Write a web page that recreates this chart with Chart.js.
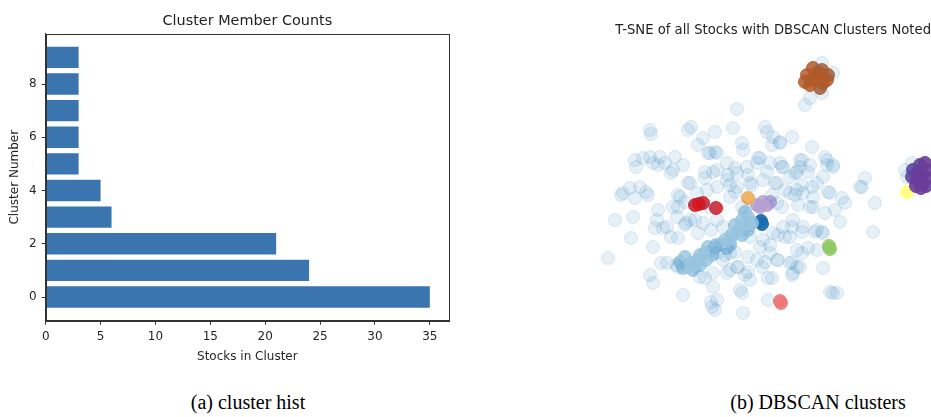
<!DOCTYPE html>
<html>
<head>
<meta charset="utf-8">
<script src="https://cdn.jsdelivr.net/npm/chart.js@4.4.1/dist/chart.umd.min.js"></script>
<style>
  html, body { margin: 0; padding: 0; background: #fff; width: 931px; height: 417px; overflow: hidden; }
  #wrap { position: relative; width: 931px; height: 417px; }
  #bar { position: absolute; left: 0; top: 0; }
  #tsne { position: absolute; left: 590px; top: 0; }
  .cap { position: absolute; top: 391px; font-family: "Liberation Serif", "Times New Roman", serif; font-size: 20px; color: #000; white-space: nowrap; transform: translateX(-50%); }
</style>
</head>
<body>
<div id="wrap">
  <canvas id="bar" width="460" height="370"></canvas>
  <canvas id="tsne" width="341" height="370"></canvas>
  <div class="cap" style="left:248px">(a) cluster hist</div>
  <div class="cap" style="left:818px">(b) DBSCAN clusters</div>
</div>
<script>
// ---------- (a) cluster histogram data ----------
const clusterIds   = [0, 1, 2, 3, 4, 5, 6, 7, 8, 9];
const memberCounts = [35, 24, 21, 6, 5, 3, 3, 3, 3, 3];
const xTickValues  = [0, 5, 10, 15, 20, 25, 30, 35];
const yTickValues  = [0, 2, 4, 6, 8];

// ---------- (b) t-SNE points (picture-pixel coordinates) ----------
const noisePoints = [
  [650,130],[651,134],[688,130],[691,127],[703,138],[698,145],[708,153],[715,152],[635,160],[636,167],
  [643,158],[650,157],[653,163],[660,157],[658,165],[665,163],[675,157],[673,170],[671,173],[683,165],
  [688,183],[705,172],[713,172],[705,178],[621,195],[630,188],[640,187],[646,192],[648,195],[635,198],
  [678,195],[685,202],
  [737,109],[805,105],[810,98],[822,93],[733,128],[765,127],[767,132],[773,137],[772,145],[780,142],
  [792,137],[742,143],[743,150],[715,132],[812,147],[717,153],[727,163],[735,168],[728,175],[760,158],
  [757,163],[780,163],[782,167],[797,172],[802,160],[810,165],[808,172],[825,157],[827,165],[833,165],
  [767,172],[748,175],[752,185],[775,183],[785,190],[802,185],[812,187],[828,192],[842,198],[730,185],
  [735,192],[795,195],[772,195],
  [822,63],[833,73],[800,160],[780,143],[827,160],[833,167],[795,173],[783,167],[865,178],[862,187],
  [845,203],[875,203],[813,197],[797,190],[905,170],[907,177],[912,163],
  [615,220],[633,217],[631,238],[653,247],[608,258],[661,263],[650,275],[653,283],[683,295],[711,302],
  [715,310],[658,210],[678,207],[655,228],[663,228],[671,237],[678,238],[685,225],[695,220],[698,233],
  [711,230],[676,265],[705,278],[713,287],[686,223],
  [715,247],[725,255],[735,252],[748,257],[760,247],[770,245],[778,235],[785,237],[792,227],[802,232],
  [815,232],[822,232],[840,222],[825,213],[835,210],[813,207],[798,205],[782,207],[765,262],[762,267],
  [778,260],[792,262],[797,267],[793,273],[748,272],[738,267],[730,270],[768,278],[745,275],[823,268],
  [830,292],[837,293],[740,290],[742,293],[768,300],[743,313],[717,300],[802,253],[808,248],[817,250],
  [623,193],[772,278],[792,275],[833,293],[873,232],[860,187],[712,307],
  [690,183],[710,153],[717,170],[737,173],[747,167],[758,158],[770,163],[790,177],[800,167],[777,183],
  [763,180],[750,183],[737,187],[727,180],[717,187],[707,190],[697,193],[680,197],[673,207],[710,207],
  [730,197],[742,207],[777,203],[790,193],[803,193],[817,183],[823,177],[830,193],[810,207],[793,220],
  [783,227],[773,233],[803,227],[817,230],[823,233],[790,237],[763,240],[750,237],[723,227],[717,220],
  [703,223],[690,220],[677,217],[667,227],[657,220],[770,253],[757,260],[737,267],[723,260],[730,253],
  [717,253],[797,250],[777,260],[790,263],[800,267],[750,280],[727,273],[713,273],[700,277],[678,267],
  [667,263]
];
const brownCluster  = [[807,75],[813,68],[822,70],[827,80],[820,88],[810,85],[815,78],[805,82],[828,75],[823,83],[818,72],[812,80]];
const purpleCluster = [[913,170],[920,165],[927,170],[917,180],[923,183],[912,177],[922,175],[927,178],[918,172],[925,163],
                       [916,186],[921,188],[926,186]];
const yellowCluster = [[907,192]];
const redCluster    = [[695,205],[703,203],[699,204],[716,208]];
const orangeCluster = [[748,198]];
const lilacCluster  = [[757,205],[763,202],[770,202],[760,207],[767,205]];
const navyCluster   = [[761,221],[762,224]];
const skyCluster    = [[685,257],[691,263],[698,260],[705,253],[708,247],[713,250],[688,267],[695,267],[706,260],
                       [735,225],[742,220],[748,217],[748,230],[742,235],[730,240],[738,232],[730,245],[752,223],
                       [700,255],[720,245],[725,240],[680,262],[683,268],[693,270],[700,265],[712,255],[716,245],
                       [727,248],[732,235],[745,212],[740,228],[750,225]];
const greenCluster  = [[829,246],[830,249]];
const pinkCluster   = [[780,301],[781,303]];

const FONT = 'DejaVu Sans';

const framePlugin = {
  id: 'frame',
  afterDraw(chart) {
    if (chart.canvas.id !== 'bar') return;
    const a = chart.chartArea, ctx = chart.ctx;
    ctx.save();
    ctx.strokeStyle = '#333';
    ctx.lineWidth = 1;
    ctx.strokeRect(Math.round(a.left) + 0.5, Math.round(a.top) + 0.5,
                   Math.round(a.right - a.left), Math.round(a.bottom - a.top));
    ctx.restore();
  }
};

new Chart(document.getElementById('bar'), {
  type: 'bar',
  data: {
    datasets: [{
      data: clusterIds.map((c, i) => ({ x: memberCounts[i], y: c })),
      backgroundColor: '#3a75b0',
      borderWidth: 0,
      barPercentage: 0.8,
      categoryPercentage: 1.0,
      xAxisID: 'x',
      yAxisID: 'y'
    }]
  },
  options: {
    indexAxis: 'y',
    responsive: false,
    animation: false,
    layout: { padding: { left: 0, right: 11, top: 0, bottom: 0 }, autoPadding: false },
    plugins: {
      legend: { display: false },
      tooltip: { enabled: false },
      title: { display: false }
    },
    scales: {
      top: {
        type: 'linear', position: 'top', min: 0, max: 36.75, offset: false,
        afterBuildTicks: s => { s.ticks = []; },
        afterFit: s => { s.height = 33.7; },
        grid: { display: false },
        border: { display: false },
        ticks: { display: false },
        title: { display: true, text: 'Cluster Member Counts', color: '#222',
                 font: { family: FONT, size: 14.4, weight: 'normal' }, padding: { top: 13, bottom: 0 } }
      },
      x: {
        type: 'linear', position: 'bottom', min: 0, max: 36.75, offset: false,
        afterBuildTicks: s => { s.ticks = xTickValues.map(v => ({ value: v })); },
        afterFit: s => { s.height = 49.3; },
        grid: { drawOnChartArea: false, drawTicks: true, tickLength: 4, color: '#333', offset: false },
        border: { display: true, color: '#333', width: 1 },
        ticks: { color: '#262626', padding: 5, maxRotation: 0, font: { family: FONT, size: 12 } },
        title: { display: true, text: 'Stocks in Cluster', color: '#262626',
                 font: { family: FONT, size: 12 }, padding: { top: 0, bottom: 6 } }
      },
      y: {
        type: 'linear', position: 'left', min: -0.89, max: 9.89, offset: false,
        afterBuildTicks: s => { s.ticks = yTickValues.map(v => ({ value: v })); },
        afterFit: s => { s.width = 45.7; },
        grid: { drawOnChartArea: false, drawTicks: true, tickLength: 4, color: '#333', offset: false },
        border: { display: true, color: '#333', width: 1 },
        ticks: { color: '#262626', padding: 5, font: { family: FONT, size: 12 } },
        title: { display: true, text: 'Cluster Number', color: '#262626',
                 font: { family: FONT, size: 12 }, padding: { top: 8, bottom: 0 } }
      }
    }
  },
  plugins: [framePlugin]
});

const toXY = arr => arr.map(p => ({ x: p[0], y: p[1] }));
const ds = (arr, fill, edge) => ({
  data: toXY(arr), backgroundColor: fill, borderColor: edge, borderWidth: 1,
  pointRadius: 6.5, pointHoverRadius: 6.5
});

new Chart(document.getElementById('tsne'), {
  type: 'scatter',
  data: {
    datasets: [
      ds(noisePoints,   'rgba(31,119,180,0.11)', 'rgba(31,119,180,0.15)'),
      ds(skyCluster,    'rgba(150,196,222,0.80)', 'rgba(150,196,222,0.80)'),
      ds(brownCluster,  'rgba(177,89,40,0.85)',  'rgba(177,89,40,0.85)'),
      ds(purpleCluster, 'rgba(106,61,154,0.90)', 'rgba(106,61,154,0.90)'),
      ds(yellowCluster, 'rgba(255,255,120,0.90)', 'rgba(255,255,120,0.90)'),
      ds(redCluster,    'rgba(212,22,30,0.85)',  'rgba(212,22,30,0.85)'),
      ds(orangeCluster, 'rgba(240,172,84,0.90)', 'rgba(240,172,84,0.90)'),
      ds(lilacCluster,  'rgba(182,160,210,0.85)', 'rgba(182,160,210,0.85)'),
      ds(navyCluster,   'rgba(28,110,175,0.95)', 'rgba(28,110,175,0.95)'),
      ds(greenCluster,  'rgba(145,202,100,0.90)', 'rgba(145,202,100,0.90)'),
      ds(pinkCluster,   'rgba(238,118,118,0.85)', 'rgba(238,118,118,0.85)')
    ]
  },
  options: {
    responsive: false,
    animation: false,
    layout: { padding: 0, autoPadding: false },
    plugins: {
      legend: { display: false },
      tooltip: { enabled: false },
      title: {
        display: true, text: 'T-SNE of all Stocks with DBSCAN Clusters Noted', color: '#222',
        align: 'end',
        font: { family: FONT, size: 13.2, weight: 'normal', lineHeight: 1.2 },
        padding: { top: 22.5, bottom: 6.66 }
      }
    },
    scales: {
      x: { type: 'linear', display: false, min: 590, max: 931 },
      y: { type: 'linear', display: false, min: 45, max: 370, reverse: true }
    }
  }
});
</script>
</body>
</html>
